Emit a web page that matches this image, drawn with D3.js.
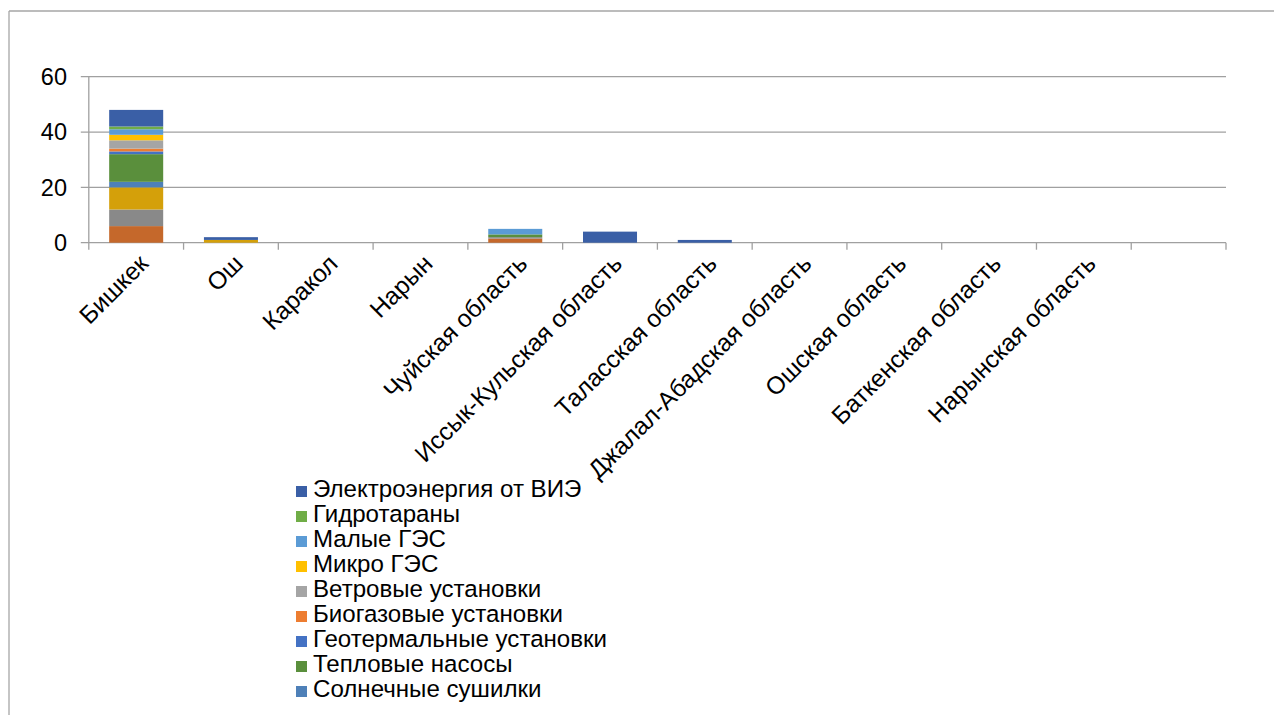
<!DOCTYPE html>
<html>
<head>
<meta charset="utf-8">
<script src="https://cdn.jsdelivr.net/npm/d3@7/dist/d3.min.js"></script>
<style>
  html, body { margin: 0; padding: 0; background: #fff; overflow: hidden; }
  svg { display: block; font-family: "Liberation Sans", Arial, sans-serif; }
</style>
</head>
<body>
<svg id="chart" width="1274" height="715"></svg>
<script>
// ---- data ----
const categories = ["Бишкек", "Ош", "Каракол", "Нарын", "Чуйская область",
  "Иссык-Кульская область", "Таласская область", "Джалал-Абадская область",
  "Ошская область", "Баткенская область", "Нарынская область", ""];

// series from bottom of the stack to top
const seriesNames = [
  "Солнечные водонагреватели",      // legend entry not visible (legend truncated)
  "Солнечные коллекторы",           // legend entry not visible
  "Фотоэлектрические установки",    // legend entry not visible
  "Солнечные сушилки",
  "Тепловые насосы",
  "Геотермальные установки",
  "Биогазовые установки",
  "Ветровые установки",
  "Микро ГЭС",
  "Малые ГЭС",
  "Гидротараны",
  "Электроэнергия от ВИЭ"
];
const s1  = [6, 0, 0, 0, 1.5, 0, 0, 0, 0, 0, 0, 0];
const s2  = [6, 0, 0, 0, 0.5, 0, 0, 0, 0, 0, 0, 0];
const s3  = [8, 1, 0, 0, 0, 0, 0, 0, 0, 0, 0, 0];
const s4  = [2, 0, 0, 0, 0, 0, 0, 0, 0, 0, 0, 0];
const s5  = [10, 0, 0, 0, 1, 0, 0, 0, 0, 0, 0, 0];
const s6  = [1, 0, 0, 0, 0, 0, 0, 0, 0, 0, 0, 0];
const s7  = [1, 0, 0, 0, 0, 0, 0, 0, 0, 0, 0, 0];
const s8  = [3, 0, 0, 0, 0, 0, 0, 0, 0, 0, 0, 0];
const s9  = [2, 0, 0, 0, 0, 0, 0, 0, 0, 0, 0, 0];
const s10 = [2, 0, 0, 0, 2, 0, 0, 0, 0, 0, 0, 0];
const s11 = [1, 0, 0, 0, 0, 0, 0, 0, 0, 0, 0, 0];
const s12 = [6, 1, 0, 0, 0, 4, 1, 0, 0, 0, 0, 0];
const seriesValues = [s1, s2, s3, s4, s5, s6, s7, s8, s9, s10, s11, s12];
const seriesColors = ["#C5682B", "#898989", "#D4A00A", "#4E80B8", "#5A8F3C", "#4472C4",
  "#ED7D31", "#A5A5A5", "#FFC000", "#5B9BD5", "#70AD47", "#3A5FA6"];
const yTicks = [0, 20, 40, 60];
const legendCount = 9; // only the top 9 entries fit in the legend

(function () {
// ---- build table ----
const table = categories.map((c, i) => {
  const row = { cat: c, idx: i };
  seriesNames.forEach((n, j) => { row[n] = seriesValues[j][i]; });
  return row;
});
const stacked = d3.stack().keys(seriesNames)(table);

const svg = d3.select("#chart");

// frame
svg.append("line").attr("x1", 9).attr("x2", 1274).attr("y1", 11).attr("y2", 11)
  .attr("stroke", "#A6A6A6").attr("stroke-width", 1.3);
svg.append("line").attr("x1", 9).attr("x2", 9).attr("y1", 11).attr("y2", 715)
  .attr("stroke", "#A6A6A6").attr("stroke-width", 1.3);

const pLeft = 88.8, pRight = 1226, pTop = 76.7, pBottom = 242.7;
const x = d3.scaleBand().domain(d3.range(categories.length)).range([pLeft, pRight])
  .paddingInner(0.43).paddingOuter(0.215);
const xb = d3.scaleBand().domain(d3.range(categories.length)).range([pLeft, pRight]);
const y = d3.scaleLinear().domain([0, 60]).range([pBottom, pTop]);

// gridlines
svg.append("g").selectAll("line").data(yTicks).join("line")
  .attr("x1", pLeft - 8).attr("x2", pRight)
  .attr("y1", d => y(d)).attr("y2", d => y(d))
  .attr("stroke", "#A0A0A0").attr("stroke-width", 1.3);

// y axis line
svg.append("line").attr("x1", pLeft).attr("x2", pLeft).attr("y1", y(60)).attr("y2", y(0))
  .attr("stroke", "#A0A0A0").attr("stroke-width", 1.3);

// y tick labels
svg.append("g").selectAll("text").data(yTicks).join("text")
  .attr("x", 67).attr("y", d => y(d)).attr("dy", "0.36em")
  .attr("text-anchor", "end").attr("font-size", 23.5).attr("fill", "#000")
  .text(d => d);

// bars
svg.append("g").selectAll("g").data(stacked).join("g")
  .attr("fill", (d, i) => seriesColors[i])
  .selectAll("rect").data(d => d).join("rect")
  .attr("x", d => x(d.data.idx))
  .attr("width", x.bandwidth())
  .attr("y", d => y(d[1]))
  .attr("height", d => Math.max(0, y(d[0]) - y(d[1])));

// category ticks
const bounds = d3.range(categories.length + 1).map(k => pLeft + k * xb.bandwidth());
svg.append("g").selectAll("line").data(bounds).join("line")
  .attr("x1", d => d).attr("x2", d => d).attr("y1", pBottom).attr("y2", pBottom + 7)
  .attr("stroke", "#A0A0A0").attr("stroke-width", 1.3);

// category labels
svg.append("g").selectAll("text").data(categories).join("text")
  .attr("transform", (d, i) => `translate(${xb(i) + xb.bandwidth() / 2 + 1},${pBottom + 10}) rotate(-45)`)
  .attr("text-anchor", "end").attr("dy", "0.72em")
  .attr("font-size", 24.6).attr("fill", "#000")
  .text(d => d);

// legend (top series first)
const legendItems = d3.range(seriesNames.length - 1, seriesNames.length - 1 - legendCount, -1);
const lg = svg.append("g").selectAll("g").data(legendItems).join("g")
  .attr("transform", (d, i) => `translate(296,${486 + i * 25})`);
lg.append("rect").attr("width", 11).attr("height", 11).attr("fill", d => seriesColors[d]);
lg.append("text").attr("x", 17).attr("y", 10.5).attr("font-size", 24.1).attr("fill", "#000")
  .text(d => seriesNames[d]);
})();
</script>
</body>
</html>
